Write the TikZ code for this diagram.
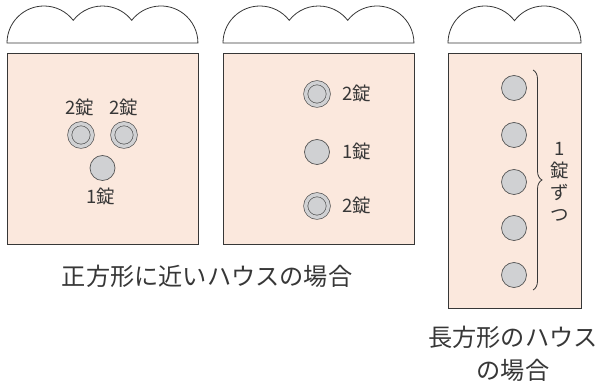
\documentclass[tikz,border=0pt]{standalone}
\usepackage{fontspec}
\newfontfamily\jpfont{Noto Sans CJK JP}
\usetikzlibrary{decorations.pathreplacing}
\definecolor{housefill}{RGB}{251,232,221}
\definecolor{pillfill}{RGB}{208,209,211}
\definecolor{inkgray}{RGB}{55,55,55}
\begin{document}
\begin{tikzpicture}
[x=1pt,y=1pt,
  housedecorate/.style={shape=rectangle,draw=inkgray,fill=housefill,line width=0.9pt,inner sep=0pt},%
  clouddecorate/.style={draw=inkgray,fill=white,line width=0.8pt},%
  pilldecorate/.style={shape=circle,draw=inkgray!85,fill=pillfill,line width=0.7pt,minimum size=25pt,inner sep=0pt},%
  dpilldecorate/.style={shape=circle,draw=inkgray!85,double=pillfill,double distance=3.4pt,fill=pillfill,line width=0.7pt,minimum size=22.6pt,inner sep=0pt},%
  smalllabel/.style={text=inkgray,inner sep=0pt,font=\jpfont\fontsize{18.5}{22}\selectfont},%
  biglabel/.style={text=inkgray,inner sep=0pt,font=\jpfont\fontsize{24.2}{33}\selectfont}]
\useasboundingbox (0,0) rectangle (599,385);
%% clouds above the houses
\foreach \sx in {0,216} {
  \draw[clouddecorate] (7+\sx,342) arc[start angle=180,end angle=37.8,radius=37]
    arc[start angle=142.2,end angle=37.8,radius=37]
    arc[start angle=142.2,end angle=0,radius=37] -- cycle;
}
\draw[clouddecorate] (448,342) arc[start angle=180,end angle=37.1,radius=37]
  arc[start angle=142.9,end angle=0,radius=37] -- cycle;
%% houses
\node (house1) at (102.5,236.5) [housedecorate,minimum width=191pt,minimum height=191pt] {};
\node (house2) at (318.5,236.5) [housedecorate,minimum width=191pt,minimum height=191pt] {};
\node (house3) at (514.5,204.5) [housedecorate,minimum width=133pt,minimum height=255pt] {};
%% square house 1
\node (p1a) at (81,250) [dpilldecorate] {};
\node (p1b) at (124,250) [dpilldecorate] {};
\node (p1c) at (102.5,217) [pilldecorate] {};
\node (l1a) at (80,277) [smalllabel] {2錠};
\node (l1b) at (124,277) [smalllabel] {2錠};
\node (l1c) at (101,188) [smalllabel] {1錠};
%% square house 2
\foreach \nodename/\y/\kind/\txt in {a/291/dpilldecorate/2錠, b/233/pilldecorate/1錠, c/179/dpilldecorate/2錠} {
  \node (p2\nodename) at (317,\y) [\kind] {};
  \node (l2\nodename) at (357,\y) [smalllabel] {\txt};
}
%% long house
\foreach \nodename/\y in {1/297, 2/250, 3/203, 4/157, 5/110} {
  \node (p3\nodename) at (514,\y) [pilldecorate] {};
}
\coordinate (bracetop) at (533,315);
\coordinate (bracebot) at (533,95);
\draw[inkgray,line width=0.8pt,decorate,decoration={brace,amplitude=9pt}] (bracetop) -- (bracebot);
\node (tate) at (560,203) [smalllabel,align=center] {1\\錠\\ず\\つ};
%% captions
\node (cap1) at (207,109) [biglabel] {正方形に近いハウスの場合};
\node (cap2) at (513,48) [biglabel] {長方形のハウス};
\node (cap3) at (513,15) [biglabel] {の場合};
\end{tikzpicture}
\end{document}
